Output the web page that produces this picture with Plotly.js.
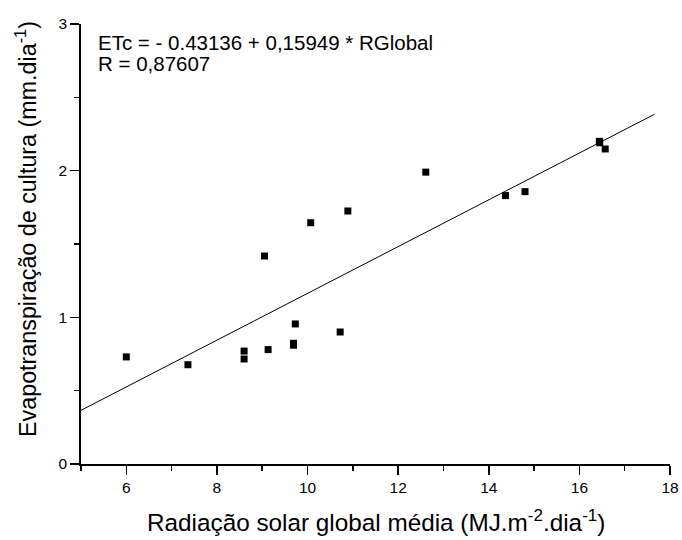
<!DOCTYPE html>
<html>
<head>
<meta charset="utf-8">
<script src="https://cdn.plot.ly/plotly-3.0.1.min.js"></script>
<style>html,body{margin:0;padding:0;background:#fff;}#chart{width:682px;height:540px;}</style>
</head>
<body>
<div id="chart"></div>
<script>
const radiacao = [6.0, 7.36, 8.60, 8.60, 9.13, 9.69, 9.69, 9.73, 10.72, 9.05, 10.07, 10.89, 12.61, 14.37, 14.80, 16.44, 16.45, 16.57];
const etc = [0.73, 0.677, 0.77, 0.716, 0.78, 0.823, 0.81, 0.955, 0.90, 1.418, 1.645, 1.725, 1.99, 1.83, 1.857, 2.20, 2.19, 2.148];
// Fitted regression line endpoints (as drawn)
const fitX = [5, 17.66];
const fitY = [0.366, 2.385];
const eqText = "ETc = - 0.43136 + 0,15949 * RGlobal";
const rText = "R = 0,87607";
const xTitle = "Radiação solar global média (MJ.m<sup>-2</sup>.dia<sup>-1</sup>)";
const yTitle = "Evapotranspiração de cultura (mm.dia<sup>-1</sup>)";

const font = "Liberation Sans, Arial, sans-serif";

const traces = [
  {x: radiacao, y: etc, type: "scatter", mode: "markers",
   marker: {symbol: "square", size: 7, color: "#000"}, hoverinfo: "skip"},
  {x: fitX, y: fitY, type: "scatter", mode: "lines",
   line: {color: "#000", width: 1}, hoverinfo: "skip"}
];

const layout = {
  width: 682, height: 540,
  margin: {l: 81, r: 12, t: 24, b: 76},
  paper_bgcolor: "#fff", plot_bgcolor: "#fff",
  showlegend: false,
  font: {family: font, color: "#000"},
  xaxis: {
    range: [5, 18], dtick: 2, tick0: 0, showgrid: false, zeroline: false,
    showline: true, linecolor: "#000", linewidth: 1.7,
    ticks: "outside", ticklen: 9, tickwidth: 1.5, tickcolor: "#000",
    minor: {dtick: 1, tick0: 0, ticks: "outside", ticklen: 5, tickwidth: 1.5, tickcolor: "#000"},
    tickfont: {size: 15.5, family: font, color: "#000"}
  },
  yaxis: {
    range: [0, 3], dtick: 1, showgrid: false, zeroline: false,
    showline: true, linecolor: "#000", linewidth: 1.7,
    ticks: "outside", ticklen: 9, tickwidth: 1.5, tickcolor: "#000",
    minor: {dtick: 0.5, ticks: "outside", ticklen: 5, tickwidth: 1.5, tickcolor: "#000"},
    tickfont: {size: 15.5, family: font, color: "#000"}
  },
  annotations: [
    {text: eqText, xref: "paper", yref: "paper", x: 0.0272, y: 0.959,
     xanchor: "left", yanchor: "middle", showarrow: false, borderpad: 0,
     font: {size: 20.5, family: font, color: "#000"}},
    {text: rText, xref: "paper", yref: "paper", x: 0.0272, y: 0.911,
     xanchor: "left", yanchor: "middle", showarrow: false, borderpad: 0,
     font: {size: 20.5, family: font, color: "#000"}},
    {text: xTitle, xref: "paper", yref: "paper", x: 0.5, y: -0.1295,
     xanchor: "center", yanchor: "middle", showarrow: false, borderpad: 0,
     font: {size: 24.3, family: font, color: "#000"}},
    {text: yTitle, xref: "paper", yref: "paper", x: -0.0935, y: 0.534,
     xanchor: "center", yanchor: "middle", showarrow: false, borderpad: 0, textangle: -90,
     font: {size: 23.3, family: font, color: "#000"}}
  ]
};

Plotly.newPlot("chart", traces, layout, {staticPlot: true, displayModeBar: false});
</script>
</body>
</html>
